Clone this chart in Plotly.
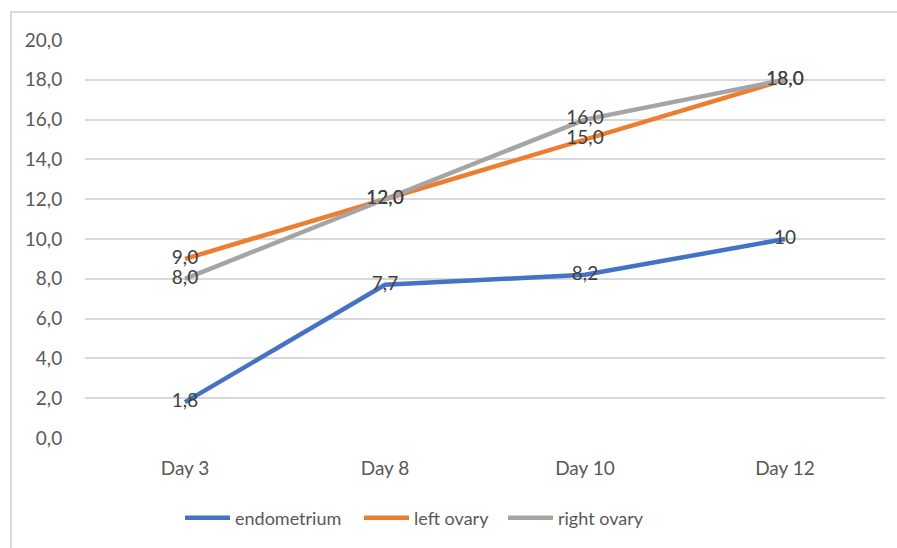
import plotly.graph_objects as go

# Follicle / endometrium measurements per cycle day
days = ["Day 3", "Day 8", "Day 10", "Day 12"]
endometrium = [1.8, 7.7, 8.2, 10]
left_ovary = [9.0, 12.0, 15.0, 18.0]
right_ovary = [8.0, 12.0, 16.0, 18.0]

series_names = ["endometrium", "left ovary", "right ovary"]
series_colors = ["#4472C4", "#ED7D31", "#A5A5A5"]

W, H = 897, 548
PLOT_L, PLOT_R, PLOT_T, PLOT_B = 85, 885, 40, 438


def fmt(v):
    # integers are shown as-is, other values with one decimal and a comma
    if isinstance(v, int):
        return str(v)
    return f"{v:.1f}".replace(".", ",")


def px_to_paper_x(px):
    return (px - PLOT_L) / (PLOT_R - PLOT_L)


def px_to_paper_y(py):
    return (PLOT_B - py) / (PLOT_B - PLOT_T)


legend_ids = ["legend", "legend2", "legend3"]
legend_left_px = [180, 359, 503]

fig = go.Figure()
for name, vals, color, lg in zip(series_names, [endometrium, left_ovary, right_ovary],
                                 series_colors, legend_ids):
    fig.add_trace(go.Scatter(
        x=days, y=vals, name=name, mode="lines+text",
        line=dict(color=color, width=4.5),
        text=[fmt(v) for v in vals], textposition="middle center",
        textfont=dict(family="Lato, sans-serif", size=19, color="#404040"),
        cliponaxis=False, legend=lg,
    ))

# Chart-area frame (top and left edges)
frame = dict(color="#D9D9D9", width=2)
fig.add_shape(type="line", xref="paper", yref="paper",
              x0=px_to_paper_x(10), x1=px_to_paper_x(W + 5),
              y0=px_to_paper_y(12), y1=px_to_paper_y(12), line=frame)
fig.add_shape(type="line", xref="paper", yref="paper",
              x0=px_to_paper_x(11), x1=px_to_paper_x(11),
              y0=px_to_paper_y(12), y1=px_to_paper_y(H + 5), line=frame)

legend_style = dict(
    orientation="h", xanchor="left", itemwidth=45,
    y=px_to_paper_y(518), yanchor="middle",
    font=dict(size=18, color="#595959"),
    bgcolor="rgba(0,0,0,0)",
)

fig.update_layout(
    width=W, height=H,
    margin=dict(l=PLOT_L, r=W - PLOT_R, t=PLOT_T, b=H - PLOT_B),
    paper_bgcolor="white", plot_bgcolor="white",
    separators=", ",
    font=dict(family="Lato, sans-serif", color="#595959"),
    xaxis=dict(
        type="category", range=[-0.5, len(days) - 0.5],
        showgrid=False, zeroline=False, showline=False,
        ticks="outside", ticklen=13, tickcolor="rgba(0,0,0,0)",
        tickfont=dict(size=19, color="#595959"),
    ),
    yaxis=dict(
        range=[0, 20], dtick=2, tickformat=".1f",
        showgrid=True, gridcolor="#D9D9D9", gridwidth=1.5,
        zeroline=False, showline=False,
        ticks="outside", ticklen=18, tickcolor="rgba(0,0,0,0)",
        tickfont=dict(size=19, color="#595959"),
    ),
    showlegend=True,
)
for lg, left in zip(legend_ids, legend_left_px):
    fig.update_layout({lg: dict(legend_style, x=px_to_paper_x(left))})

fig.write_html("out.html")
